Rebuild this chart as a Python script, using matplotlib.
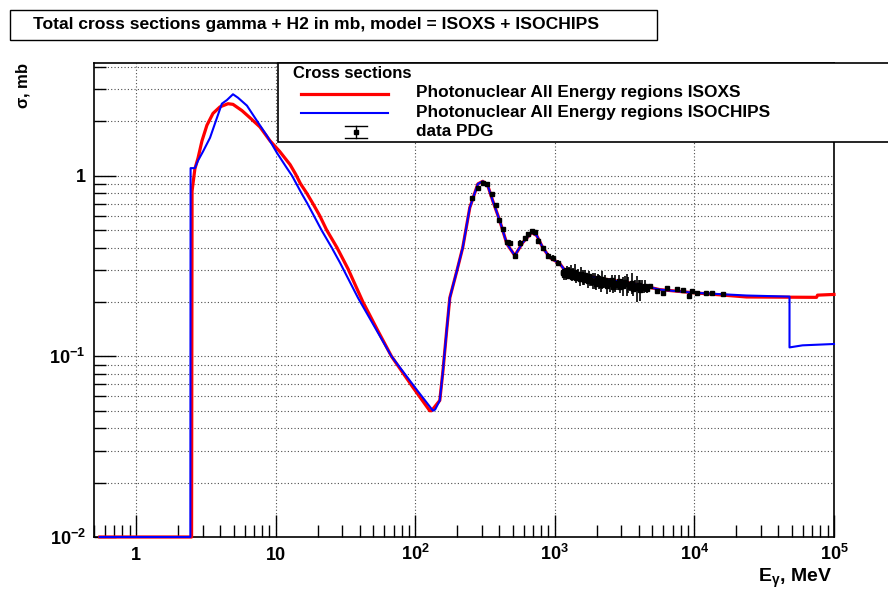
import matplotlib
matplotlib.use("Agg")
import matplotlib.pyplot as plt
from matplotlib.lines import Line2D
from matplotlib.patches import Rectangle
from matplotlib.ticker import FixedLocator, NullFormatter

plt.rcParams['font.family'] = ['Liberation Sans', 'DejaVu Sans']
plt.rcParams['font.weight'] = 'bold'
plt.rcParams['mathtext.fontset'] = 'custom'
plt.rcParams['mathtext.rm'] = 'Liberation Sans:bold'
plt.rcParams['mathtext.it'] = 'Liberation Sans:bold'
plt.rcParams['mathtext.bf'] = 'Liberation Sans:bold'
plt.rcParams['mathtext.default'] = 'rm'

# ISOXS model, gamma + d total cross section (MeV, mb)
e_isoxs = [0.55, 2.50, 2.52, 2.64, 2.78, 2.97, 3.22, 3.56, 3.99, 4.56, 4.95, 5.74,
           6.55, 7.72, 9.11, 10.7, 12.7, 13.9, 15.1, 16.7, 18.5, 20.7, 23.2, 27.5,
           33.0, 42.2, 53.1, 67.6, 96.1, 127, 131,
           150, 158, 168, 177, 199, 219, 246, 281, 305, 331, 359, 403, 453, 517,
           589, 683, 742, 819, 920, 1085, 1217, 1435, 2095, 3610, 5636, 9710,
           23640, 75000, 76200, 100000]
s_isoxs = [0.01, 0.01, 0.82, 1.09, 1.25, 1.56, 1.90, 2.21, 2.40, 2.50, 2.48, 2.29,
           2.09, 1.86, 1.56, 1.36, 1.15, 1.02, 0.90, 0.80, 0.70, 0.60, 0.50, 0.40,
           0.305, 0.20, 0.142, 0.10, 0.0675, 0.050, 0.050,
           0.057, 0.083, 0.139, 0.211, 0.298, 0.40, 0.665, 0.90, 0.93, 0.88, 0.727,
           0.564, 0.42, 0.361, 0.426, 0.484, 0.466, 0.40, 0.352, 0.326, 0.29, 0.287,
           0.27, 0.253, 0.234, 0.225,
           0.213, 0.212, 0.218, 0.220]

# ISOCHIPS model
e_isochips = [0.55, 2.45, 2.46, 2.64, 2.78, 3.02, 3.39, 3.80, 4.12, 4.48, 4.95, 5.37,
              6.23, 7.35, 8.67, 10.2, 12.05, 13.1, 14.1, 15.3, 16.9, 18.8, 21.3, 25.2,
              28.9, 39.0, 67.6, 103, 134, 139,
              150, 158, 168, 177, 199, 219, 246, 281, 305, 331, 359, 403, 453, 517,
              589, 683, 742, 819, 920, 1085, 1217, 1435, 2095, 3610, 5636, 9710,
              23640, 48000, 48000, 59500, 100000]
s_isochips = [0.01, 0.01, 1.10, 1.10, 1.21, 1.36, 1.62, 2.09, 2.50, 2.62, 2.82, 2.70,
              2.44, 2.01, 1.66, 1.34, 1.10, 1.00, 0.90, 0.80, 0.70, 0.60, 0.50, 0.40,
              0.33, 0.21, 0.10, 0.065, 0.050, 0.0508,
              0.057, 0.083, 0.139, 0.211, 0.298, 0.40, 0.665, 0.90, 0.93, 0.88, 0.727,
              0.564, 0.42, 0.361, 0.426, 0.484, 0.466, 0.40, 0.352, 0.326, 0.29, 0.287,
              0.27, 0.253, 0.234, 0.225,
              0.217, 0.214, 0.112, 0.115, 0.117]

# PDG measurements: resonance region, multi-GeV cloud, high-energy points
e_pdg = [254, 281, 305, 326, 353, 377, 397, 423, 453, 476, 517, 561, 609, 640, 683,
         718, 755, 819, 889, 966, 1049, 1140,
         1150, 1165, 1180, 1200, 1220, 1240, 1260, 1280, 1300, 1325, 1350, 1375, 1400,
         1430, 1460, 1490, 1520, 1550, 1580, 1610, 1640, 1680, 1720, 1760, 1800, 1840,
         1880, 1930, 1980, 2030, 2080, 2130, 2180, 2240, 2300, 2360, 2420, 2490, 2560,
         2630, 2700, 2780, 2860, 2940, 3020, 3100, 3190, 3280, 3370, 3460, 3560, 3660,
         3760, 3870, 3980, 4090, 4200, 4320, 4440, 4560,
         4780, 5360, 5920, 6320, 7460, 8240, 9090, 9550, 10370, 12030, 13280, 15920]
s_pdg = [0.756, 0.859, 0.915, 0.903, 0.795, 0.691, 0.571, 0.509, 0.431, 0.426, 0.361,
         0.426, 0.454, 0.478, 0.496, 0.490, 0.437, 0.400, 0.361, 0.352, 0.330, 0.290,
         0.292, 0.281, 0.296, 0.286, 0.300, 0.279, 0.291, 0.284, 0.297, 0.276, 0.289,
         0.280, 0.293, 0.272, 0.285, 0.276, 0.268, 0.287, 0.274, 0.264, 0.281, 0.270,
         0.262, 0.279, 0.266, 0.258, 0.262, 0.262, 0.252, 0.270, 0.259, 0.248, 0.267,
         0.255, 0.263, 0.246, 0.258, 0.250, 0.264, 0.243, 0.255, 0.247, 0.260, 0.241,
         0.252, 0.245, 0.257, 0.252, 0.250, 0.243, 0.254, 0.236, 0.246, 0.240, 0.249,
         0.233, 0.243, 0.238, 0.245, 0.236,
         0.246, 0.231, 0.225, 0.240, 0.237, 0.234, 0.217, 0.231, 0.225, 0.225, 0.223, 0.220]
err_pdg = [0.02, 0.02, 0.02, 0.02, 0.02, 0.015, 0.015, 0.012, 0.012, 0.012, 0.01,
           0.012, 0.012, 0.012, 0.012, 0.012, 0.012, 0.01, 0.01, 0.01, 0.01, 0.012,
           0.012, 0.016, 0.014, 0.020, 0.018, 0.012, 0.022, 0.015, 0.025, 0.014, 0.018,
           0.012, 0.030, 0.016, 0.020, 0.014, 0.022, 0.025, 0.026, 0.015, 0.020, 0.017,
           0.024, 0.016, 0.020, 0.014, 0.027, 0.027, 0.018, 0.016, 0.024, 0.020, 0.030,
           0.016, 0.020, 0.026, 0.014, 0.022, 0.018, 0.020, 0.028, 0.015, 0.022, 0.018,
           0.016, 0.030, 0.020, 0.035, 0.026, 0.014, 0.034, 0.020, 0.018, 0.040, 0.016,
           0.030, 0.020, 0.014, 0.018, 0.012,
           0.006, 0.006, 0.005, 0.005, 0.005, 0.005, 0.006, 0.005, 0.005, 0.005, 0.005, 0.005]

xticks = [1, 10, 100, 1000, 10000, 100000]
xticklabels = ['1', '10', '$10^{2}$', '$10^{3}$', '$10^{4}$', '$10^{5}$']
yticks = [0.01, 0.1, 1]
yticklabels = ['$10^{-2}$', '$10^{-1}$', '1']

W, H = 888, 591


def fx(p):
    return p / W


def fy(p):
    return 1 - p / H


fig = plt.figure(figsize=(W / 100, H / 100), dpi=100)
ax = fig.add_axes([fx(94), fy(537), fx(834 - 94), (537 - 63) / H])
ax.set_xscale('log')
ax.set_yscale('log')
ax.set_xlim(0.5, 1e5)
ax.set_ylim(0.01, 4.2)

ax.plot(e_isoxs, s_isoxs, color='#ff0000', lw=2.3, clip_on=False, zorder=3)
ax.plot(e_isochips, s_isochips, color='#0000ff', lw=1.5, clip_on=False, zorder=4)
ax.errorbar(e_pdg, s_pdg, yerr=err_pdg, fmt='s', color='black', ms=3.2,
            elinewidth=1.2, capsize=0, zorder=5)

ax.tick_params(which='major', direction='in', length=16, width=1.0, labelsize=13)
ax.tick_params(which='minor', direction='in', length=8.5, width=1.0)
ax.tick_params(axis='x', which='major', pad=16.5)
ax.tick_params(axis='y', which='major', pad=6)
ax.xaxis.set_major_locator(FixedLocator(xticks))
ax.set_xticklabels(xticklabels, va='baseline')
ax.yaxis.set_major_locator(FixedLocator(yticks))
ax.set_yticklabels(yticklabels)
ax.xaxis.set_minor_formatter(NullFormatter())
ax.yaxis.set_minor_formatter(NullFormatter())
ax.grid(True, axis='x', which='major', color='0.3', lw=0.8, linestyle=(0, (1, 2)))
ax.grid(True, axis='y', which='both', color='0.3', lw=0.8, linestyle=(0, (1, 2)))
for sp in ax.spines.values():
    sp.set_linewidth(1.2)

fig.text(fx(23), fy(62), r'$\sigma$, mb', rotation=90, ha='center', va='top', fontsize=12)
fig.text(fx(832), fy(578), r'E$_{\gamma}$, MeV', ha='right', va='center', fontsize=14)

# title pad
fig.add_artist(Rectangle((fx(10), fy(40)), fx(657 - 10), (40 - 10) / H,
                         transform=fig.transFigure, facecolor='white',
                         edgecolor='black', lw=1.0))
fig.text(fx(33), fy(25), 'Total cross sections gamma + H2 in mb, model = ISOXS + ISOCHIPS',
         ha='left', va='center', fontsize=12.6)

# legend box
fig.add_artist(Rectangle((fx(278), fy(142)), fx(700), (142 - 63) / H,
                         transform=fig.transFigure, facecolor='white',
                         edgecolor='black', lw=1.2, clip_on=False, zorder=6))
fig.text(fx(293), fy(74), 'Cross sections', ha='left', va='center', fontsize=12, zorder=7)
fig.add_artist(Line2D([fx(301), fx(388)], [fy(94), fy(94)], transform=fig.transFigure,
                      color='#ff0000', lw=2.3, zorder=7))
fig.add_artist(Line2D([fx(301), fx(388)], [fy(113), fy(113)], transform=fig.transFigure,
                      color='#0000ff', lw=1.5, zorder=7))
fig.add_artist(Line2D([fx(356), fx(356)], [fy(126), fy(138)], transform=fig.transFigure,
                      color='black', lw=1.0, zorder=7))
for yy in (126, 138):
    fig.add_artist(Line2D([fx(345), fx(367)], [fy(yy), fy(yy)], transform=fig.transFigure,
                          color='black', lw=1.0, zorder=7))
fig.add_artist(Line2D([fx(356)], [fy(132)], transform=fig.transFigure, marker='s',
                      ms=3.2, color='black', zorder=7))
fig.text(fx(416), fy(93), 'Photonuclear All Energy regions ISOXS', ha='left',
         va='center', fontsize=12.4, zorder=7)
fig.text(fx(416), fy(112), 'Photonuclear All Energy regions ISOCHIPS', ha='left',
         va='center', fontsize=12.4, zorder=7)
fig.text(fx(416), fy(131), 'data PDG', ha='left', va='center', fontsize=12.4, zorder=7)

fig.savefig('out.png', dpi=100)
